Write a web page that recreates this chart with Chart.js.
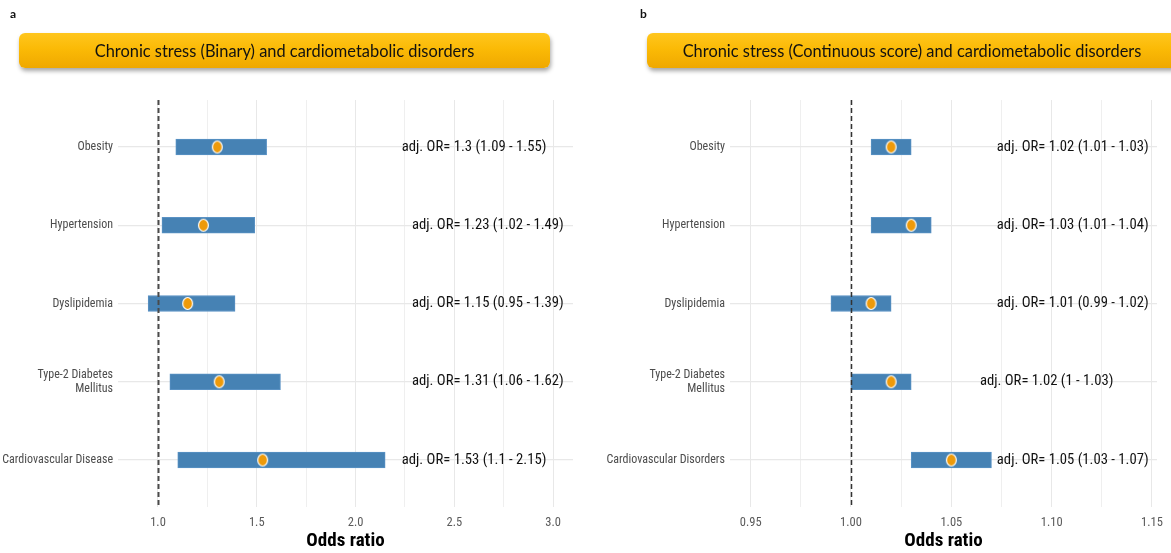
<!DOCTYPE html>
<html>
<head>
<meta charset="utf-8">
<script src="https://cdn.jsdelivr.net/npm/chart.js@4.4.1/dist/chart.umd.min.js"></script>
<style>
  html, body { margin: 0; padding: 0; background: #ffffff; }
  #page { position: relative; width: 1171px; height: 553px; overflow: hidden; background: #ffffff; }
  .panel { position: absolute; top: 0; height: 553px; }
  .tag { position: absolute; top: 6px; font: bold 12px Lato, "Liberation Sans", sans-serif; color: #111; }
  .banner {
    position: absolute; top: 33px; height: 35px; border-radius: 6px;
    background: linear-gradient(to bottom, #FFC61E 0%, #FBBA06 45%, #EFA800 100%);
    box-shadow: 1px 3px 4px rgba(0,0,0,0.35);
    display: flex; align-items: center; justify-content: center;
    font-family: Lato, "Open Sans", sans-serif; font-size: 16.4px; color: #111;
    white-space: nowrap;
  }
</style>
</head>
<body>
<div id="page">
  <div class="panel" id="wrapA" style="left:0;width:585px;"><canvas id="chartA"></canvas></div>
  <div class="panel" id="wrapB" style="left:585px;width:586px;"><canvas id="chartB"></canvas></div>
  <div class="tag" style="left:10px;">a</div>
  <div class="tag" style="left:640px;">b</div>
  <div class="banner" style="left:19px;width:531px;">Chronic stress (Binary) and cardiometabolic disorders</div>
  <div class="banner" style="left:647px;width:530px;">Chronic stress (Continuous score) and cardiometabolic disorders</div>
</div>
<script>
// ---- Panel a: chronic stress (binary) ----
const categoriesA = ['Obesity', 'Hypertension', 'Dyslipidemia', ['Type-2 Diabetes', 'Mellitus'], 'Cardiovascular Disease'];
const oddsA  = [1.3, 1.23, 1.15, 1.31, 1.53];
const lowerA = [1.09, 1.02, 0.95, 1.06, 1.1];
const upperA = [1.55, 1.49, 1.39, 1.62, 2.15];
const tickValuesA = [1.0, 1.5, 2.0, 2.5, 3.0];
const tickLabelsA = ['1.0', '1.5', '2.0', '2.5', '3.0'];
const minorTicksA = [1.25, 1.75, 2.25, 2.75];

// ---- Panel b: chronic stress (continuous score) ----
const categoriesB = ['Obesity', 'Hypertension', 'Dyslipidemia', ['Type-2 Diabetes', 'Mellitus'], 'Cardiovascular Disorders'];
const oddsB  = [1.02, 1.03, 1.01, 1.02, 1.05];
const lowerB = [1.01, 1.01, 0.99, 1.00, 1.03];
const upperB = [1.03, 1.04, 1.02, 1.03, 1.07];
const tickValuesB = [0.95, 1.00, 1.05, 1.10, 1.15];
const tickLabelsB = ['0.95', '1.00', '1.05', '1.10', '1.15'];
const minorTicksB = [0.975, 1.025, 1.075, 1.125];

const NARROW = '"Liberation Sans Narrow", "Roboto Condensed", "Liberation Sans", Arial, sans-serif';
Chart.defaults.font.family = NARROW;

// Orange estimate marker: a slightly tall ellipse with a white rim
function makeMarker() {
  const c = document.createElement('canvas');
  c.width = 13; c.height = 15;
  const g = c.getContext('2d');
  g.beginPath();
  g.ellipse(6.5, 7.5, 4.9, 6.0, 0, 0, Math.PI * 2);
  g.fillStyle = '#EE9A0A';
  g.fill();
  g.lineWidth = 1.2;
  g.strokeStyle = '#ffffff';
  g.stroke();
  return c;
}
const marker = makeMarker();

const fmt = v => String(v);

function buildChart(canvasId, cfg) {
  const { cats, odds, lower, upper, tickValues, tickLabels, minorTicks,
          xMin, xMax, yAxisWidth, padRight, labelAt, refLine } = cfg;

  const annotate = {
    id: 'orText',
    afterDatasetsDraw(chart) {
      const { ctx, chartArea, scales: { x, y } } = chart;
      // reference line at OR = 1
      const px = Math.round(x.getPixelForValue(1)) + 0.5;
      ctx.save();
      ctx.strokeStyle = refLine.color;
      ctx.lineWidth = refLine.width;
      ctx.setLineDash([5, 3]);
      ctx.beginPath();
      ctx.moveTo(px, chartArea.top);
      ctx.lineTo(px, chartArea.bottom);
      ctx.stroke();
      ctx.restore();
      // estimate markers on top
      const meta = chart.getDatasetMeta(1);
      meta.data.forEach(pt => ctx.drawImage(marker, pt.x - marker.width / 2, pt.y - marker.height / 2));
      // value labels
      ctx.save();
      ctx.font = '14.7px ' + NARROW;
      ctx.fillStyle = '#111111';
      ctx.textAlign = 'center';
      ctx.textBaseline = 'middle';
      cats.forEach((c, i) => {
        const text = 'adj. OR= ' + fmt(odds[i]) + ' (' + fmt(lower[i]) + ' - ' + fmt(upper[i]) + ')';
        ctx.fillText(text, x.getPixelForValue(labelAt[i]), y.getPixelForValue(i + 1));
      });
      ctx.restore();
    }
  };

  const majorSet = new Set(tickValues.map(v => v.toFixed(4)));

  return new Chart(document.getElementById(canvasId), {
    type: 'bar',
    data: {
      datasets: [
        {
          type: 'bar',
          data: cats.map((c, i) => ({ x: [lower[i], upper[i]], y: i + 1 })),
          backgroundColor: '#4682B4',
          borderColor: '#5A92C4',
          borderWidth: 1,
          borderSkipped: false,
          barThickness: 16,
          order: 2
        },
        {
          type: 'scatter',
          data: cats.map((c, i) => ({ x: odds[i], y: i + 1 })),
          pointRadius: 0,
          pointHoverRadius: 0,
          showLine: false,
          order: 1
        }
      ]
    },
    options: {
      indexAxis: 'y',
      responsive: true,
      maintainAspectRatio: false,
      animation: false,
      devicePixelRatio: 1,
      layout: { padding: { left: 0, right: padRight, top: 100, bottom: 0 } },
      plugins: { legend: { display: false }, tooltip: { enabled: false } },
      scales: {
        x: {
          type: 'linear',
          min: xMin, max: xMax,
          beginAtZero: false,
          offset: false,
          afterBuildTicks: axis => {
            axis.ticks = tickValues.concat(minorTicks).sort((a, b) => a - b).map(v => ({ value: v }));
          },
          afterFit: axis => { axis.height = 46; },
          ticks: {
            autoSkip: false, maxRotation: 0, padding: 8,
            color: '#5a5a5a',
            font: { size: 12.5 },
            callback: v => {
              const k = tickValues.findIndex(t => Math.abs(t - v) < 1e-9);
              return k >= 0 ? tickLabels[k] : '';
            }
          },
          grid: {
            drawTicks: false,
            color: ctx => (ctx.tick && majorSet.has(ctx.tick.value.toFixed(4))) ? '#E8E8E8' : '#EFEFEF',
            lineWidth: 1
          },
          border: { display: false },
          title: {
            display: true, text: 'Odds ratio', color: '#000000',
            font: { size: 19, weight: 'bold' },
            padding: { top: 0, bottom: 0 }
          }
        },
        y: {
          type: 'linear',
          reverse: true,
          min: 0.4, max: 5.6,
          offset: false,
          afterBuildTicks: axis => { axis.ticks = cats.map((c, i) => ({ value: i + 1 })); },
          afterFit: axis => { axis.width = yAxisWidth; },
          ticks: {
            autoSkip: false, padding: 5,
            color: '#4D4D4D',
            font: { size: 12, lineHeight: 1.15 },
            callback: v => cats[Math.round(v) - 1]
          },
          grid: { drawTicks: false, offset: false, color: '#E8E8E8', lineWidth: 1.2 },
          border: { display: false }
        }
      }
    },
    plugins: [annotate]
  });
}

buildChart('chartA', {
  cats: categoriesA, odds: oddsA, lower: lowerA, upper: upperA,
  tickValues: tickValuesA, tickLabels: tickLabelsA, minorTicks: minorTicksA,
  xMin: 0.7975, xMax: 3.101, yAxisWidth: 118, padRight: 12,
  labelAt: [2.6, 2.67, 2.67, 2.67, 2.6],
  refLine: { color: '#4a4a4a', width: 2 }
});

buildChart('chartB', {
  cats: categoriesB, odds: oddsB, lower: lowerB, upper: upperB,
  tickValues: tickValuesB, tickLabels: tickLabelsB, minorTicks: minorTicksB,
  xMin: 0.9397, xMax: 1.1525, yAxisWidth: 145, padRight: 9,
  labelAt: [1.1105, 1.1105, 1.1105, 1.0975, 1.1105],
  refLine: { color: '#333333', width: 1.5 }
});
</script>
</body>
</html>
